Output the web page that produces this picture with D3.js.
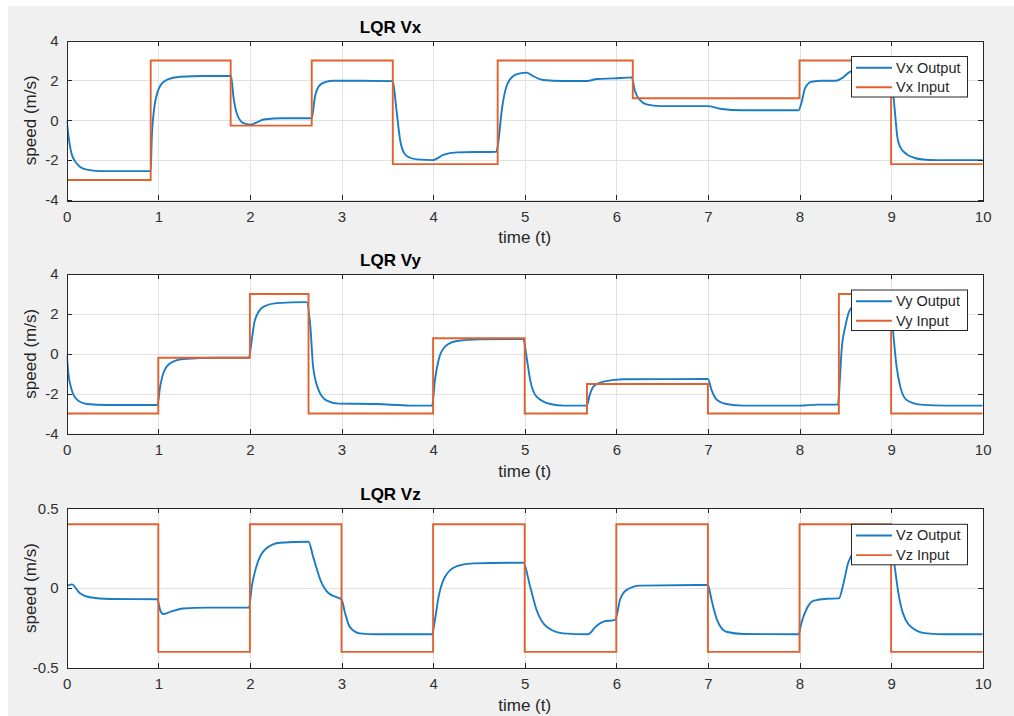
<!DOCTYPE html>
<html>
<head>
<meta charset="utf-8">
<script src="https://d3js.org/d3.v7.min.js"></script>
<style>
body { margin: 0; background: #fff; }
svg text { font-family: "Liberation Sans", Arial, Helvetica, sans-serif; fill: #262626; }
.axis path, .axis line { stroke: #262626; shape-rendering: crispEdges; }
.grid line { stroke: #e2e2e2; shape-rendering: crispEdges; }
</style>
</head>
<body>
<svg width="1014" height="716"></svg>
<script>

// ---- data ----
var timeTicks = [0, 1, 2, 3, 4, 5, 6, 7, 8, 9, 10];
var vxTicks = [-4, -2, 0, 2, 4];
var vyTicks = [-4, -2, 0, 2, 4];
var vzTicks = [-0.5, 0, 0.5];

// step inputs: [time the level starts, level]
var vxInput = [[0, -3], [0.917, 3], [1.79, -0.27], [2.675, 3], [3.56, -2.2], [4.705, 3],
  [6.18, 1.1], [8.0, 3], [9.0, -2.2], [10, -2.2]];
var vyInput = [[0, -3], [1.0, -0.2], [2.0, 3], [2.64, -3], [4.0, 0.78], [5.0, -3],
  [5.68, -1.52], [7.0, -3], [8.43, 3], [9.0, -3], [10, -3]];
var vzInput = [[0, 0.4], [1, -0.4], [2, 0.4], [3, -0.4], [4, 0.4], [5, -0.4],
  [6, 0.4], [7, -0.4], [8, 0.4], [9, -0.4], [10, -0.4]];

// measured outputs
var vxOutput = [[0, 0], [0.012, -0.5], [0.03, -1.15], [0.055, -1.7], [0.09, -2.05], [0.14, -2.32],
  [0.22, -2.48], [0.36, -2.55], [0.917, -2.55],
  [0.928, -0.99], [0.953, 0.51], [1.0, 1.52], [1.04, 1.85], [1.09, 2.02], [1.24, 2.18], [1.5, 2.22], [1.794, 2.22],
  [1.82, 1.18], [1.856, 0.35], [1.93, -0.15], [2.0, -0.22], [2.07, -0.12], [2.15, 0.04], [2.36, 0.1], [2.675, 0.1],
  [2.71, 1.18], [2.765, 1.77], [2.83, 1.92], [2.91, 1.98], [3.2, 1.98], [3.56, 1.96],
  [3.6, 0.51], [3.64, -0.99], [3.69, -1.69], [3.75, -1.88], [3.82, -1.96], [4.0, -2.0], [4.05, -1.9],
  [4.11, -1.74], [4.26, -1.61], [4.69, -1.58],
  [4.71, -1.16], [4.75, 0.51], [4.8, 1.68], [4.875, 2.22], [4.95, 2.35], [5.02, 2.39], [5.09, 2.22],
  [5.2, 2.02], [5.42, 1.97], [5.68, 1.97], [5.79, 2.07], [5.97, 2.1], [6.17, 2.15],
  [6.2, 1.52], [6.26, 1.01], [6.33, 0.8], [6.48, 0.71], [7.0, 0.71], [7.13, 0.58], [7.39, 0.5], [7.99, 0.5],
  [8.02, 0.85], [8.06, 1.6], [8.13, 1.93], [8.25, 1.98], [8.4, 1.98], [8.46, 2.1], [8.55, 2.43],
  [8.7, 2.6], [8.85, 2.64], [9.0, 2.64],
  [9.02, 1.5], [9.04, 0.5], [9.07, -0.9], [9.1, -1.35], [9.17, -1.7], [9.25, -1.88], [9.35, -1.97],
  [9.5, -2.0], [10, -2.0]];
var vyOutput = [[0, 0], [0.018, -0.98], [0.055, -1.82], [0.11, -2.29], [0.22, -2.52], [0.44, -2.57], [0.99, -2.57],
  [1.02, -1.65], [1.055, -0.98], [1.13, -0.48], [1.27, -0.26], [1.64, -0.2], [1.99, -0.2],
  [2.02, 0.69], [2.055, 1.69], [2.15, 2.36], [2.29, 2.54], [2.62, 2.59],
  [2.66, 1.36], [2.69, -0.65], [2.75, -1.82], [2.84, -2.35], [2.97, -2.5], [3.38, -2.52], [3.75, -2.6], [3.99, -2.6],
  [4.02, -1.32], [4.06, -0.31], [4.13, 0.36], [4.26, 0.64], [4.51, 0.72], [4.985, 0.74],
  [5.02, -0.15], [5.06, -1.32], [5.13, -2.15], [5.28, -2.52], [5.43, -2.6], [5.68, -2.6],
  [5.705, -2.15], [5.75, -1.65], [5.86, -1.4], [6.08, -1.28], [7.0, -1.27],
  [7.04, -1.82], [7.1, -2.32], [7.2, -2.52], [7.39, -2.6], [8.0, -2.6], [8.2, -2.55], [8.42, -2.55],
  [8.44, -1.32], [8.46, 0.19], [8.5, 1.36], [8.55, 2.19], [8.65, 2.55], [8.8, 2.62], [8.99, 2.62],
  [9.02, 1.19], [9.06, -0.65], [9.1, -1.65], [9.17, -2.32], [9.32, -2.55], [9.6, -2.6], [10, -2.6]];
var vzOutput = [[0, 0.013], [0.055, 0.023], [0.145, -0.033], [0.25, -0.058], [0.47, -0.069], [0.99, -0.07],
  [1.02, -0.138], [1.055, -0.163], [1.13, -0.149], [1.27, -0.128], [1.53, -0.123], [1.99, -0.123],
  [2.02, 0.008], [2.07, 0.134], [2.18, 0.249], [2.33, 0.284], [2.64, 0.29],
  [2.69, 0.197], [2.77, 0.05], [2.86, -0.033], [2.98, -0.065], [3.0, -0.071],
  [3.04, -0.159], [3.09, -0.243], [3.2, -0.284], [3.37, -0.29], [3.99, -0.29],
  [4.02, -0.2], [4.06, -0.055], [4.13, 0.071], [4.26, 0.138], [4.44, 0.155], [4.985, 0.159],
  [5.06, 0.008], [5.13, -0.138], [5.24, -0.243], [5.42, -0.284], [5.69, -0.29],
  [5.78, -0.24], [5.86, -0.21], [5.99, -0.2],
  [6.01, -0.159], [6.04, -0.075], [6.11, -0.013], [6.26, 0.015], [7.0, 0.019],
  [7.04, -0.075], [7.1, -0.2], [7.2, -0.274], [7.39, -0.288], [7.99, -0.29],
  [8.02, -0.22], [8.08, -0.128], [8.15, -0.08], [8.3, -0.067], [8.43, -0.065],
  [8.48, 0.029], [8.53, 0.155], [8.56, 0.197], [8.65, 0.27], [8.8, 0.3], [8.99, 0.3],
  [9.04, 0.13], [9.08, -0.033], [9.13, -0.159], [9.24, -0.253], [9.39, -0.284], [9.6, -0.29], [10, -0.29]];

var panels = [
  {title: "LQR Vx", name: "Vx", ticks: vxTicks, domain: [-4, 4], input: vxInput, output: vxOutput, top: 40.5},
  {title: "LQR Vy", name: "Vy", ticks: vyTicks, domain: [-4, 4], input: vyInput, output: vyOutput, top: 274},
  {title: "LQR Vz", name: "Vz", ticks: vzTicks, domain: [-0.5, 0.5], input: vzInput, output: vzOutput, top: 508.3}
];

var blue = "#1A7CC4", orange = "#E2622F";

var svg = d3.select("svg");
svg.append("rect").attr("x", 8).attr("y", 6).attr("width", 1006).attr("height", 710).attr("fill", "#f0f0f0");

var left = 66.7, right = 982.7, plotH = 159.5;
var x = d3.scaleLinear().domain([0, 10]).range([left, right]);

panels.forEach(function(p, i) {
  var y = d3.scaleLinear().domain(p.domain).range([p.top + plotH, p.top]);
  var g = svg.append("g");

  g.append("rect").attr("x", left).attr("y", p.top)
    .attr("width", right - left).attr("height", plotH).attr("fill", "#fff");

  // grid
  var grid = g.append("g").attr("class", "grid");
  grid.selectAll(".vx").data(timeTicks).enter().append("line")
    .attr("x1", function(d) { return Math.round(x(d)) + 0.5; })
    .attr("x2", function(d) { return Math.round(x(d)) + 0.5; })
    .attr("y1", p.top).attr("y2", p.top + plotH);
  grid.selectAll(".hy").data(p.ticks).enter().append("line")
    .attr("x1", left).attr("x2", right)
    .attr("y1", function(d) { return Math.round(y(d)) + 0.5; })
    .attr("y2", function(d) { return Math.round(y(d)) + 0.5; });

  g.append("clipPath").attr("id", "clip" + i).append("rect")
    .attr("x", left).attr("y", p.top - 1).attr("width", right - left).attr("height", plotH + 2);

  var stepLine = d3.line().curve(d3.curveStepAfter)
    .x(function(d) { return x(d[0]); }).y(function(d) { return y(d[1]); });
  var smoothLine = d3.line().curve(d3.curveMonotoneX)
    .x(function(d) { return x(d[0]); }).y(function(d) { return y(d[1]); });

  var lines = g.append("g").attr("clip-path", "url(#clip" + i + ")");
  lines.append("path").datum(p.output).attr("d", smoothLine)
    .attr("fill", "none").attr("stroke", blue).attr("stroke-width", 1.9);
  lines.append("path").datum(p.input).attr("d", stepLine)
    .attr("fill", "none").attr("stroke", orange).attr("stroke-width", 1.9);

  // axes, ticks inward on all four sides
  var fmt = function(d) { return String(d); };
  g.append("g").attr("class", "axis")
    .attr("transform", "translate(0," + (p.top + plotH) + ")")
    .call(d3.axisBottom(x).tickValues(timeTicks).tickFormat(fmt).tickSizeInner(-5).tickSizeOuter(0).tickPadding(11))
    .call(function(a) { a.selectAll("text").style("font-size", "15px").style("fill", "#303030"); });
  g.append("g").attr("class", "axis")
    .attr("transform", "translate(0," + p.top + ")")
    .call(d3.axisTop(x).tickValues(timeTicks).tickFormat("").tickSizeInner(-5).tickSizeOuter(0));
  g.append("g").attr("class", "axis")
    .attr("transform", "translate(" + left + ",0)")
    .call(d3.axisLeft(y).tickValues(p.ticks).tickFormat(fmt).tickSizeInner(-5).tickSizeOuter(0).tickPadding(8))
    .call(function(a) { a.selectAll("text").style("font-size", "15px").style("fill", "#303030"); });
  g.append("g").attr("class", "axis")
    .attr("transform", "translate(" + right + ",0)")
    .call(d3.axisRight(y).tickValues(p.ticks).tickFormat("").tickSizeInner(-5).tickSizeOuter(0));
  g.selectAll(".axis .domain").remove();
  g.append("rect").attr("x", Math.round(left) + 0.5).attr("y", Math.round(p.top) + 0.5)
    .attr("width", Math.round(right) - Math.round(left)).attr("height", Math.round(plotH))
    .attr("fill", "none").attr("stroke", "#262626").attr("stroke-width", 1);

  // title and labels
  g.append("text").attr("x", 390.5).attr("y", p.top - 8).attr("text-anchor", "middle")
    .style("font-size", "17px").style("font-weight", "bold").style("fill", "#000").text(p.title);
  g.append("text").attr("x", (left + right) / 2).attr("y", p.top + plotH + 43).attr("text-anchor", "middle")
    .style("font-size", "17px").text("time (t)");
  g.append("text").attr("transform", "translate(36," + (p.top + plotH / 2) + ") rotate(-90)")
    .attr("text-anchor", "middle").style("font-size", "17px").text("speed (m/s)");

  // legend
  var lg = g.append("g").attr("transform", "translate(851," + (p.top + 15.5) + ")");
  lg.append("rect").attr("x", 0.5).attr("y", 0.5).attr("width", 116).attr("height", 40.5)
    .attr("fill", "#fff").attr("stroke", "#262626").attr("stroke-width", 1);
  [[p.name + " Output", blue, 11.7], [p.name + " Input", orange, 31.3]].forEach(function(e) {
    lg.append("line").attr("x1", 5).attr("x2", 41).attr("y1", e[2]).attr("y2", e[2])
      .attr("stroke", e[1]).attr("stroke-width", 1.9);
    lg.append("text").attr("x", 45).attr("y", e[2] + 5).style("font-size", "14.5px").text(e[0]);
  });
});

</script>
</body>
</html>
